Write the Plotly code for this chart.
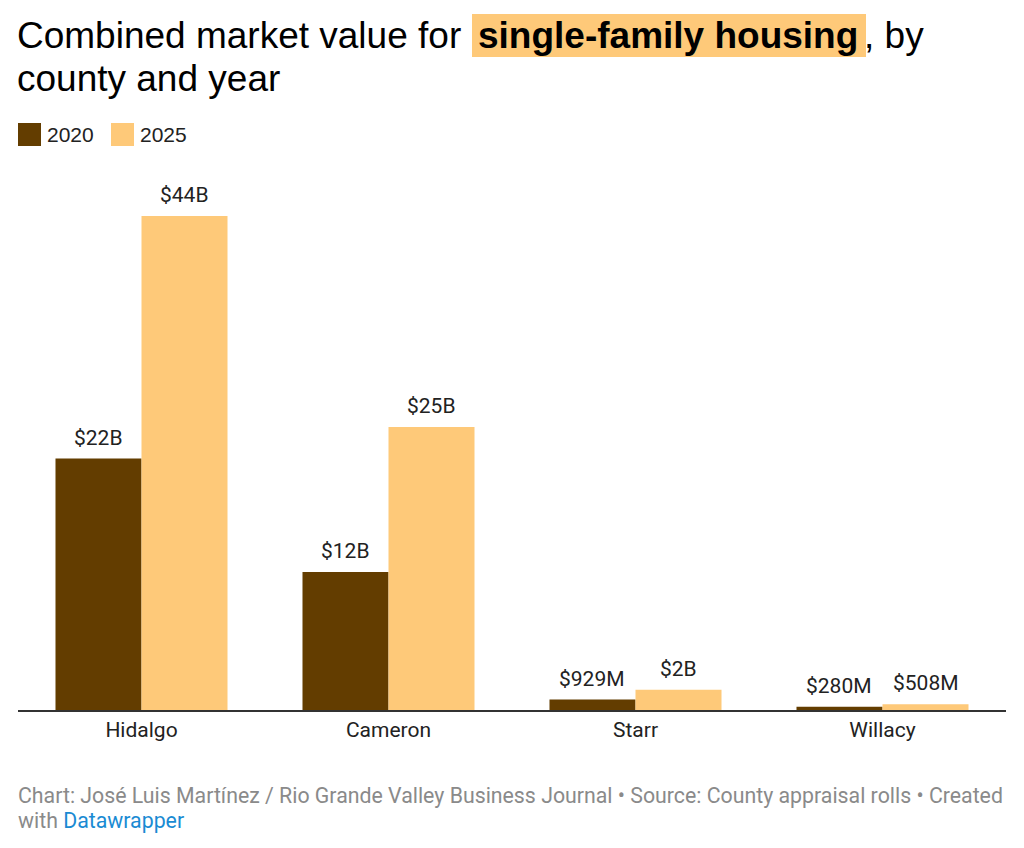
import plotly.graph_objects as go

# ---- data ----
counties = ["Hidalgo", "Cameron", "Starr", "Willacy"]
years = ["2020", "2025"]
values_2020 = [22.4, 12.3, 0.929, 0.280]   # billions of dollars
values_2025 = [44.0, 25.2, 1.8, 0.508]
labels_2020 = ["$22B", "$12B", "$929M", "$280M"]
labels_2025 = ["$44B", "$25B", "$2B", "$508M"]

# ---- style ----
C2020 = "#633d00"
C2025 = "#fec979"
TEXT = "#222222"
OFF = 8                      # page body margin
W, H = 1008, 832
ML, MR, MT, MB = 10, 10, 162, 130
PW = W - ML - MR
PH = H - MT - MB
YMAX = 44.0 * PH / 494.0
BARGAP = 0.3036


def px(x):
    """page pixel x -> paper"""
    return (x - OFF - ML) / PW


def py(y):
    """page pixel y -> paper"""
    return (H - MB - (y - OFF)) / PH


fig = go.Figure()
fig.add_trace(go.Bar(name=years[0], x=counties, y=values_2020,
                     marker=dict(color=C2020, line=dict(width=0))))
fig.add_trace(go.Bar(name=years[1], x=counties, y=values_2025,
                     marker=dict(color=C2025, line=dict(width=0))))

annotations = []
bar_px = PW / len(counties) * (1 - BARGAP) / 2
for i, c in enumerate(counties):
    for vals, labs, sh in ((values_2020, labels_2020, -bar_px / 2),
                           (values_2025, labels_2025, bar_px / 2)):
        annotations.append(dict(
            x=c, y=vals[i], xref="x", yref="y", text=labs[i],
            showarrow=False, xshift=sh, yshift=7, yanchor="bottom",
            font=dict(family="Roboto", size=21, color=TEXT)))

# title
TFONT = dict(family="Liberation Sans", size=37, color="#000000")
annotations += [
    dict(x=px(15), y=py(36), xref="paper", yref="paper", xanchor="left", yanchor="middle",
         text="Combined market value for", showarrow=False, font=TFONT),
    dict(x=px(476), y=py(36), xref="paper", yref="paper", xanchor="left", yanchor="middle",
         text="<b>single-family housing</b>", showarrow=False, font=TFONT),
    dict(x=px(862), y=py(36), xref="paper", yref="paper", xanchor="left", yanchor="middle",
         text=", by", showarrow=False, font=TFONT),
    dict(x=px(15), y=py(78), xref="paper", yref="paper", xanchor="left", yanchor="middle",
         text="county and year", showarrow=False, font=TFONT),
]

# legend (manual)
LFONT = dict(family="Liberation Sans", size=21, color=TEXT)
annotations += [
    dict(x=px(45), y=py(134), xref="paper", yref="paper", xanchor="left", yanchor="middle",
         text=years[0], showarrow=False, font=LFONT),
    dict(x=px(138), y=py(134), xref="paper", yref="paper", xanchor="left", yanchor="middle",
         text=years[1], showarrow=False, font=LFONT),
]

# footer
FFONT = dict(family="Roboto", size=21.3, color="#8a8a8a")
annotations += [
    dict(x=px(16), y=py(795), xref="paper", yref="paper", xanchor="left", yanchor="middle",
         showarrow=False, font=FFONT,
         text="Chart: José Luis Martínez / Rio Grande Valley Business Journal • Source: County appraisal rolls • Created"),
    dict(x=px(16), y=py(820), xref="paper", yref="paper", xanchor="left", yanchor="middle",
         showarrow=False, font=FFONT,
         text="with <span style='color:#1a8bd3'>Datawrapper</span>"),
]

shapes = [
    dict(type="rect", xref="paper", yref="paper", x0=px(472), x1=px(866), y0=py(57), y1=py(14),
         fillcolor=C2025, line=dict(width=0), layer="below"),
    dict(type="rect", xref="paper", yref="paper", x0=px(18), x1=px(41), y0=py(146), y1=py(123),
         fillcolor=C2020, line=dict(width=0)),
    dict(type="rect", xref="paper", yref="paper", x0=px(111), x1=px(134), y0=py(146), y1=py(123),
         fillcolor=C2025, line=dict(width=0)),
]

fig.update_layout(
    width=W, height=H,
    margin=dict(l=ML, r=MR, t=MT, b=MB, pad=0),
    paper_bgcolor="white", plot_bgcolor="white",
    barmode="group", bargap=BARGAP, bargroupgap=0,
    showlegend=False,
    annotations=annotations, shapes=shapes,
    xaxis=dict(showline=True, linecolor="#333333", linewidth=2, ticks="",
               showgrid=False, tickfont=dict(family="Roboto", size=21, color=TEXT),
               fixedrange=True),
    yaxis=dict(range=[0, YMAX], visible=False, showgrid=False, zeroline=False, fixedrange=True),
    font=dict(family="Roboto"),
)

fig.write_html("out.html", config={"displayModeBar": False})
